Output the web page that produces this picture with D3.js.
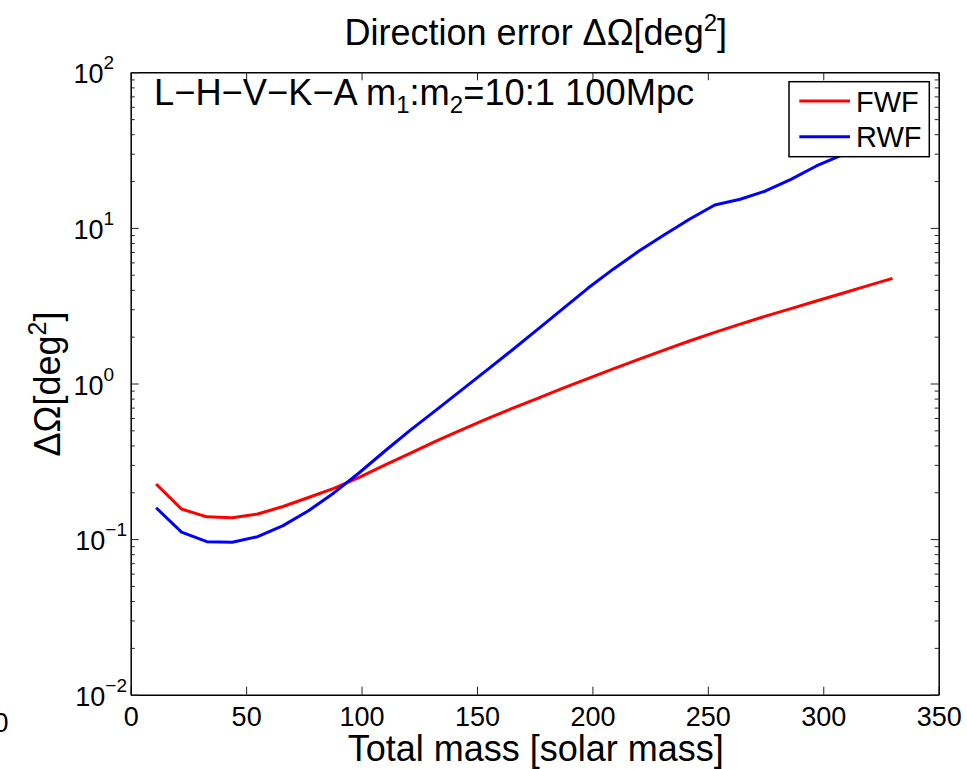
<!DOCTYPE html>
<html>
<head>
<meta charset="utf-8">
<script src="https://cdn.jsdelivr.net/npm/d3@7"></script>
<style>
  body { margin: 0; background: #fff; }
  svg text { font-family: "Liberation Sans", Arial, Helvetica, sans-serif; fill: #000; }
</style>
</head>
<body>
<svg id="chart" width="967" height="769"></svg>
<script>
// total mass points (solar mass)
var mass = [11, 22, 33, 44, 55, 66, 77, 88, 99, 110, 121, 132, 143, 154, 165,
            176, 187, 198, 209, 220, 231, 242, 253, 264, 275, 286, 297, 308, 319, 330];
// direction error, deg^2
var fwf = [0.226, 0.156, 0.139, 0.137, 0.145, 0.162, 0.185, 0.212, 0.249, 0.299,
           0.356, 0.425, 0.501, 0.59, 0.689, 0.80, 0.93, 1.075, 1.24, 1.43,
           1.64, 1.875, 2.13, 2.41, 2.71, 3.03, 3.39, 3.79, 4.24, 4.74];
var rwf = [0.159, 0.111, 0.0962, 0.0954, 0.1036, 0.122, 0.152, 0.198, 0.267, 0.367,
           0.50, 0.67, 0.90, 1.21, 1.63, 2.21, 3.01, 4.09, 5.43, 7.07,
           9.0, 11.36, 14.03, 15.27, 17.27, 20.5, 25.0, 29.4, 34.8, 41.3];
var seriesNames = ["FWF", "RWF"];
var seriesColors = ["#ff0000", "#0000ff"];
var xTicks = [0, 50, 100, 150, 200, 250, 300, 350];
var yExps = [-2, -1, 0, 1, 2];

(function () {
  var pad = { left: 130.7, right: 938.7, top: 72.3, bottom: 694.7 };
  var svg = d3.select("#chart");

  var x = d3.scaleLinear().domain([0, 350]).range([pad.left, pad.right]);
  var y = d3.scaleLog().domain([1e-2, 1e2]).range([pad.bottom, pad.top]);

  var minors = [];
  yExps.slice(0, -1).forEach(function (e) {
    for (var k = 2; k <= 9; k++) minors.push(k * Math.pow(10, e));
  });
  var majors = yExps.map(function (e) { return Math.pow(10, e); });

  // lines
  var line = d3.line()
    .x(function (d) { return x(d[0]); })
    .y(function (d) { return y(d[1]); });

  [fwf, rwf].forEach(function (vals, i) {
    svg.append("path")
      .attr("d", line(mass.map(function (m, j) { return [m, vals[j]]; })))
      .attr("fill", "none")
      .attr("stroke", seriesColors[i])
      .attr("stroke-width", 3)
      .attr("stroke-linejoin", "round");
  });

  // axes
  function styleAxis(g) {
    g.selectAll(".domain").attr("stroke", "#000").attr("stroke-width", 1.5);
    g.selectAll(".tick line").attr("stroke", "#222").attr("stroke-width", 1);
  }

  svg.append("g")
    .attr("transform", "translate(0," + pad.bottom + ")")
    .call(d3.axisBottom(x).tickValues(xTicks).tickSizeInner(-8).tickSizeOuter(0).tickPadding(12))
    .call(styleAxis)
    .call(function (g) {
      g.selectAll(".tick text").attr("font-size", 27).attr("font-family", "Liberation Sans, Arial, sans-serif");
    });

  svg.append("g")
    .attr("transform", "translate(0," + pad.top + ")")
    .call(d3.axisTop(x).tickValues(xTicks).tickSizeInner(-8).tickSizeOuter(0).tickFormat(""))
    .call(styleAxis);

  [[d3.axisLeft, pad.left], [d3.axisRight, pad.right]].forEach(function (a) {
    svg.append("g")
      .attr("transform", "translate(" + a[1] + ",0)")
      .call(a[0](y).tickValues(majors).tickSizeInner(-8).tickSizeOuter(0).tickFormat(""))
      .call(styleAxis);
    svg.append("g")
      .attr("transform", "translate(" + a[1] + ",0)")
      .call(a[0](y).tickValues(minors).tickSizeInner(-4).tickSizeOuter(0).tickFormat(""))
      .call(function (g) { g.select(".domain").remove(); })
      .call(styleAxis);
  });

  // y tick labels 10^n
  yExps.forEach(function (e) {
    var ty = Math.max(y(Math.pow(10, e)) + 11, 75);
    var t = svg.append("text")
      .attr("x", e < 0 ? 127 : 114)
      .attr("y", ty)
      .attr("text-anchor", "end")
      .attr("font-size", 27);
    t.append("tspan").text("10");
    t.append("tspan").attr("font-size", 19).attr("dy", -14).text(e < 0 ? "\u2212" + (-e) : String(e));
  });

  // stray clipped label at the left edge
  svg.append("text").attr("x", -6.5).attr("y", 731.5).attr("font-size", 27).text("0");

  // title
  var title = svg.append("text")
    .attr("x", 535.8).attr("y", 45)
    .attr("text-anchor", "middle")
    .attr("font-size", 36);
  title.append("tspan").text("Direction error \u0394\u03A9[deg");
  title.append("tspan").attr("font-size", 24).attr("dy", -14).text("2");
  title.append("tspan").attr("dy", 14).text("]");

  // annotation
  var ann = svg.append("text")
    .attr("x", 154).attr("y", 105)
    .attr("font-size", 36.3);
  ann.append("tspan").text("L\u2212H\u2212V\u2212K\u2212A m");
  ann.append("tspan").attr("font-size", 24).attr("dy", 8).text("1");
  ann.append("tspan").attr("dy", -8).text(":m");
  ann.append("tspan").attr("font-size", 24).attr("dy", 8).text("2");
  ann.append("tspan").attr("dy", -8).text("=10:1 100Mpc");

  // x label
  svg.append("text")
    .attr("x", 535.8).attr("y", 761)
    .attr("text-anchor", "middle")
    .attr("font-size", 36)
    .text("Total mass [solar mass]");

  // y label
  var yl = svg.append("text")
    .attr("transform", "translate(60,384) rotate(-90)")
    .attr("text-anchor", "middle")
    .attr("font-size", 36);
  yl.append("tspan").text("\u0394\u03A9[deg");
  yl.append("tspan").attr("font-size", 25).attr("dy", -14).text("2");
  yl.append("tspan").attr("dy", 14).text("]");

  // legend
  var lg = svg.append("g");
  lg.append("rect")
    .attr("x", 789).attr("y", 81.7).attr("width", 140.3).attr("height", 75)
    .attr("fill", "#fff").attr("stroke", "#000").attr("stroke-width", 1.5);
  seriesNames.forEach(function (name, i) {
    var ly = 101 + i * 35.7;
    lg.append("line")
      .attr("x1", 799.3).attr("x2", 850).attr("y1", ly).attr("y2", ly)
      .attr("stroke", seriesColors[i]).attr("stroke-width", 3);
    lg.append("text")
      .attr("x", 856).attr("y", ly + 10.5)
      .attr("font-size", 29)
      .text(name);
  });
})();
</script>
</body>
</html>
